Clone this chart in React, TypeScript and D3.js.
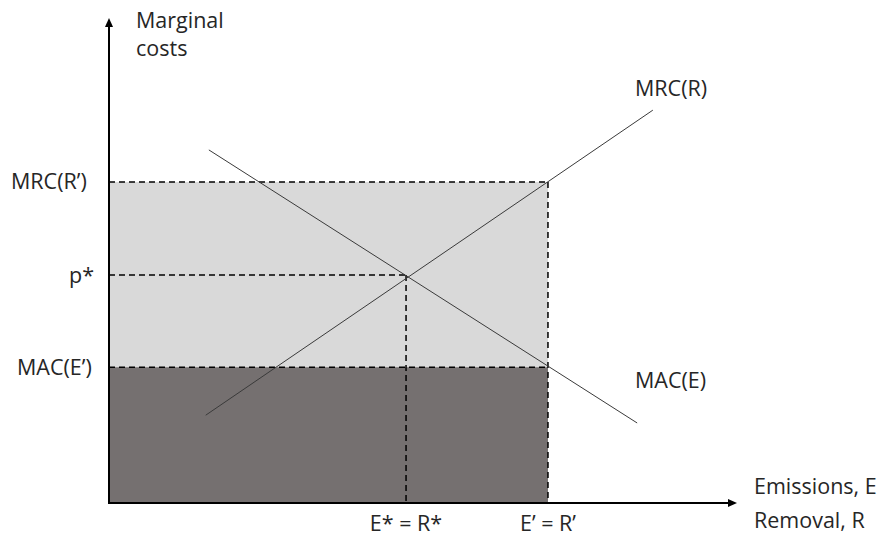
import React from "react";
import * as d3 from "d3";

// Economic units (0-100 on both axes)
const eqE = 47.3; // E* = R*
const eqP = 47.0; // p*
const capE = 69.9; // E' = R'
const mrcHigh = 66.2; // MRC(R')
const macLow = 28.0; // MAC(E')
const mrcLine: [number, number][] = [[15.4, 18.1], [86.6, 81.0]];
const macLine: [number, number][] = [[15.9, 72.8], [84.1, 16.5]];
const yTickLabels = [
  { label: "MRC(R’)", v: mrcHigh, x: 11 },
  { label: "p*", v: eqP, x: 69 },
  { label: "MAC(E’)", v: macLow, x: 17 },
];
const xTickLabels = [
  { label: "E* = R*", v: eqE },
  { label: "E’ = R’", v: capE },
];

const W = 881;
const H = 543;

export default function App() {
  const x = d3.scaleLinear().domain([0, 100]).range([109, 737]);
  const y = d3.scaleLinear().domain([0, 100]).range([503, 18]);
  const line = d3.line<[number, number]>().x((d) => x(d[0])).y((d) => y(d[1]));
  const font = "'Open Sans', 'Noto Sans', sans-serif";
  const fs = 21.5;
  const dash = "6,4";
  const tc = "#262626";
  return (
    <div style={{ position: "fixed", left: 0, top: 0 }}>
      <svg width={W} height={H} style={{ display: "block", background: "#fff" }}>
        <rect x={x(0)} y={y(mrcHigh)} width={x(capE) - x(0)} height={y(macLow) - y(mrcHigh)} fill="#d9d9d9" />
        <rect x={x(0)} y={y(macLow)} width={x(capE) - x(0)} height={y(0) - y(macLow)} fill="#757070" />
        {/* dashed guides */}
        <g stroke="#000" strokeWidth={1.5} strokeDasharray={dash} fill="none">
          <line x1={x(0)} y1={y(mrcHigh)} x2={x(capE)} y2={y(mrcHigh)} />
          <line x1={x(capE)} y1={y(mrcHigh)} x2={x(capE)} y2={y(0)} />
          <line x1={x(0)} y1={y(eqP)} x2={x(eqE)} y2={y(eqP)} />
          <line x1={x(eqE)} y1={y(eqP)} x2={x(eqE)} y2={y(0)} />
          <line x1={x(0)} y1={y(macLow)} x2={x(capE)} y2={y(macLow)} />
        </g>
        {/* curves */}
        <path d={line(mrcLine) || ""} stroke="#3a3a3a" strokeWidth={1} fill="none" />
        <path d={line(macLine) || ""} stroke="#3a3a3a" strokeWidth={1} fill="none" />
        {/* axes */}
        <line x1={x(0)} y1={y(0)} x2={x(0)} y2={y(100) + 6} stroke="#000" strokeWidth={2} />
        <path d={`M${x(0)},${y(100)} l-4,9 l8,0 z`} fill="#000" />
        <line x1={x(0) - 1} y1={y(0)} x2={x(100) - 6} y2={y(0)} stroke="#000" strokeWidth={2} />
        <path d={`M${x(100)},${y(0)} l-9,-4 l0,8 z`} fill="#000" />
        {/* texts */}
        <g fontFamily={font} fontSize={fs} fill={tc}>
          <text x={136} y={28}>Marginal</text>
          <text x={136} y={56}>costs</text>
          {yTickLabels.map((t) => (
            <text key={t.label} x={t.x} y={y(t.v)} dy="0.35em">{t.label}</text>
          ))}
          {xTickLabels.map((t) => (
            <text key={t.label} x={x(t.v)} y={531} textAnchor="middle">{t.label}</text>
          ))}
          <text x={635} y={96}>MRC(R)</text>
          <text x={635} y={388}>MAC(E)</text>
          <text x={754} y={494}>Emissions, E</text>
          <text x={754} y={528}>Removal, R</text>
        </g>
      </svg>
    </div>
  );
}
